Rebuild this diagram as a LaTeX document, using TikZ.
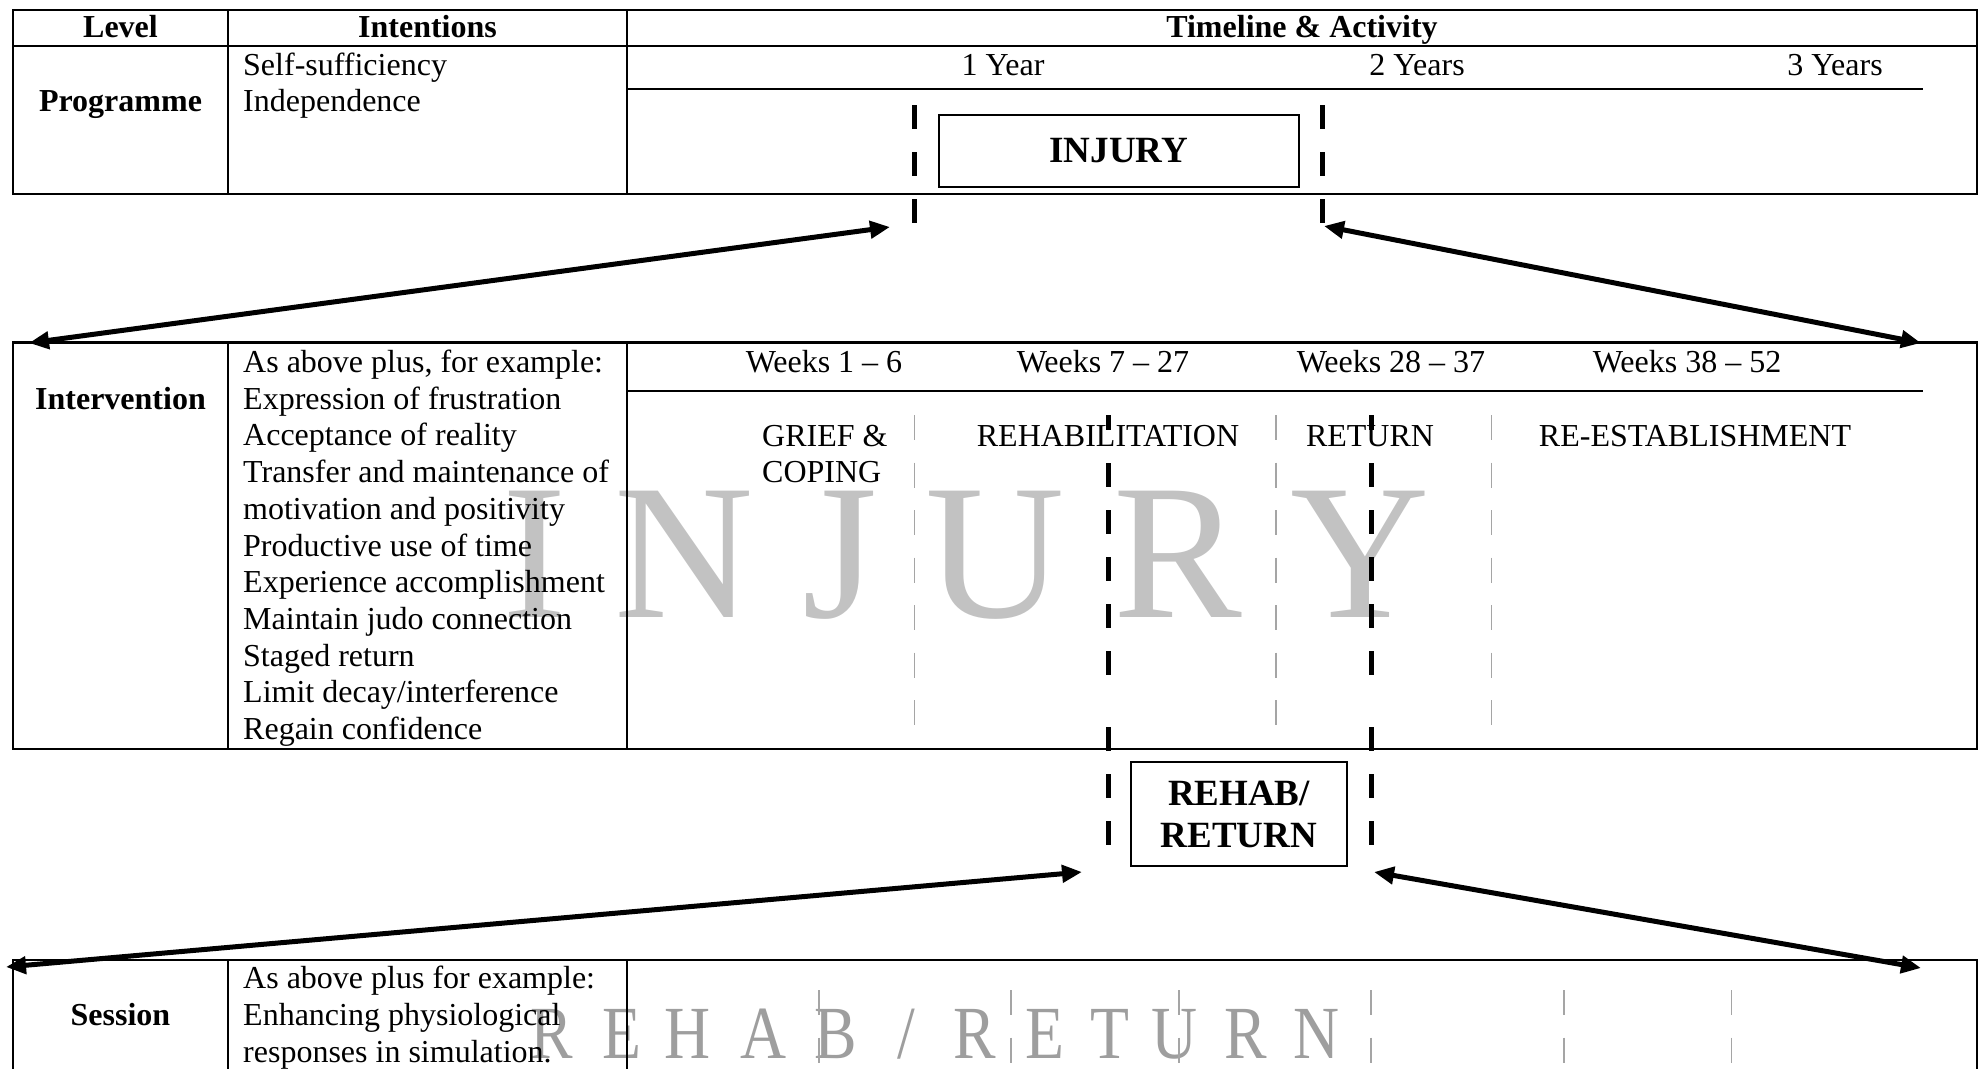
\documentclass[tikz,border=0pt]{standalone}
\usepackage{graphicx}
\usepackage{fontspec}
\setmainfont{Liberation Serif}
\usetikzlibrary{arrows.meta}

\definecolor{wmlight}{RGB}{194,194,194}
\definecolor{wmdark}{RGB}{158,158,158}
\definecolor{guidegray}{RGB}{165,165,165}
\newcommand\wmslash{/}

\begin{document}
\begin{tikzpicture}[x=1pt,y=-1pt,
  tablerule/.style={line width=2.6pt, line cap=rect},
  yearrule/.style={line width=2pt},
  txt/.style={inner sep=0pt, font=\fontsize{32}{36.7}\selectfont},
  hdr/.style={inner sep=0pt, font=\fontsize{32}{36.7}\selectfont\bfseries},
  phasebox/.style={draw, line width=2pt, inner sep=0pt,
    font=\fontsize{37}{42}\selectfont\bfseries, align=center},
  guideline/.style={draw=guidegray, line width=1.5pt, dash pattern=on 25pt off 22.5pt},
  periodline/.style={line width=5pt, dash pattern=on 23.5pt off 23.5pt},
  link/.style={line width=5pt,
    {Triangle[length=20pt,width=17pt]}-{Triangle[length=20pt,width=17pt]}},
]
\useasboundingbox (0,0) rectangle (1986,1068);

% ---------- background lettering ----------
\node[anchor=base west, inner sep=0pt, text=wmlight,
      font=\fontsize{193}{193}\selectfont] (wminjury) at (502,617) {I N J U R Y};
\foreach \cx/\ch [count=\k] in {552/R, 621.5/E, 688/H, 763.5/A, 836/B, 906/\wmslash,
                               975/R, 1045/E, 1110/T, 1175/U, 1245.5/R, 1317/N}
  \node[anchor=base, inner sep=0pt, text=wmdark,
        font=\fontsize{75}{75}\selectfont] (wmrehab\k) at (\cx,1058) {\scalebox{0.85}[1]{\ch}};

% ---------- Programme level ----------
\draw[tablerule] (13,10) rectangle (1977,194);
\draw[tablerule] (13,46) -- (1977,46);
\draw[tablerule] (228,10) -- (228,194);
\draw[tablerule] (627,10) -- (627,194);
\draw[yearrule] (627,89) -- (1923,89);

\node[hdr, anchor=base] (hlevel) at (120.5,37) {Level};
\node[hdr, anchor=base] (hintent) at (427.5,37) {Intentions};
\node[hdr, anchor=base] (htime) at (1302,37) {Timeline \& Activity};

\node[hdr, anchor=base] (lprog) at (120.5,111) {Programme};
\node[txt, anchor=base west] (pself) at (243,75) {Self-sufficiency};
\node[txt, anchor=base west] (pindep) at (243,111) {Independence};

\node[txt, anchor=base] (y1) at (1003,75) {1 Year};
\node[txt, anchor=base] (y2) at (1417,75) {2 Years};
\node[txt, anchor=base] (y3) at (1835,75) {3 Years};

\node[phasebox, minimum width=360.5pt, minimum height=72pt] (injury) at (1118.75,150.5) {INJURY};

% injury period markers
\draw[periodline] (914.5,105) -- (914.5,224);
\draw[periodline] (1322,105) -- (1322,224);

% ---------- Intervention level ----------
\draw[tablerule] (13,342.5) rectangle (1977,749);
\draw[tablerule] (228,342.5) -- (228,749);
\draw[tablerule] (627,342.5) -- (627,749);
\draw[yearrule] (627,391) -- (1923,391);

\node[hdr, anchor=base] (linter) at (120.5,409) {Intervention};
\foreach \line [count=\k from 0] in {{As above plus, for example:}, {Expression of frustration},
    {Acceptance of reality}, {Transfer and maintenance of}, {motivation and positivity},
    {Productive use of time}, {Experience accomplishment}, {Maintain judo connection},
    {Staged return}, {Limit decay/interference}, {Regain confidence}}
  \node[txt, anchor=base west] (iline\k) at (243,372.5+36.7*\k) {\line};

\node[txt, anchor=base] (w1) at (824,372.5) {Weeks 1 – 6};
\node[txt, anchor=base] (w2) at (1103,372.5) {Weeks 7 – 27};
\node[txt, anchor=base] (w3) at (1391,372.5) {Weeks 28 – 37};
\node[txt, anchor=base] (w4) at (1687,372.5) {Weeks 38 – 52};

\node[txt, anchor=base west] (grief) at (762,446) {GRIEF \&};
\node[txt, anchor=base west] (coping) at (762,482) {COPING};
\node[txt, anchor=base] (rehabl) at (1108,446) {REHABILITATION};
\node[txt, anchor=base] (returnl) at (1370,446) {RETURN};
\node[txt, anchor=base] (reest) at (1695,446) {RE-ESTABLISHMENT};

% phase boundaries
\foreach \gx in {914.5,1276,1491.5}
  \draw[guideline] (\gx,415) -- (\gx,728);

% rehab / return period markers
\foreach \px in {1108,1371.5} {
  \draw[line width=5pt] (\px,415) -- (\px,430);
  \draw[periodline] (\px,463) -- (\px,680);
  \draw[periodline] (\px,727) -- (\px,848);
}

\node[phasebox, minimum width=216pt, minimum height=103.5pt] (rehabbox) at (1239,814) {REHAB/\\RETURN};

% ---------- Session level ----------
\draw[tablerule] (13,1075) -- (13,960) -- (1977,960) -- (1977,1075);
\draw[tablerule] (228,960) -- (228,1075);
\draw[tablerule] (627,960) -- (627,1075);

\node[hdr, anchor=base] (lsess) at (120.5,1025) {Session};
\node[txt, anchor=base west] (sline0) at (243,988) {As above plus for example:};
\node[txt, anchor=base west] (sline1) at (243,1025) {Enhancing physiological};
\node[txt, anchor=base west] (sline2) at (243,1062) {responses in simulation.};

\foreach \gx in {819,1011,1179,1371,1564,1731.5}
  \draw[guideline] (\gx,990) -- (\gx,1068);

% ---------- zoom connectors ----------
\coordinate (injA) at (890,227);
\coordinate (injB) at (1324,226);
\coordinate (intA) at (29,343);
\coordinate (intB) at (1921,343);
\coordinate (rehA) at (1082,872);
\coordinate (rehB) at (1374,872);
\coordinate (sesA) at (6,967);
\coordinate (sesB) at (1921,968);

\draw[link] (injA) -- (intA);
\draw[link] (injB) -- (intB);
\draw[link] (rehA) -- (sesA);
\draw[link] (rehB) -- (sesB);
\end{tikzpicture}
\end{document}
